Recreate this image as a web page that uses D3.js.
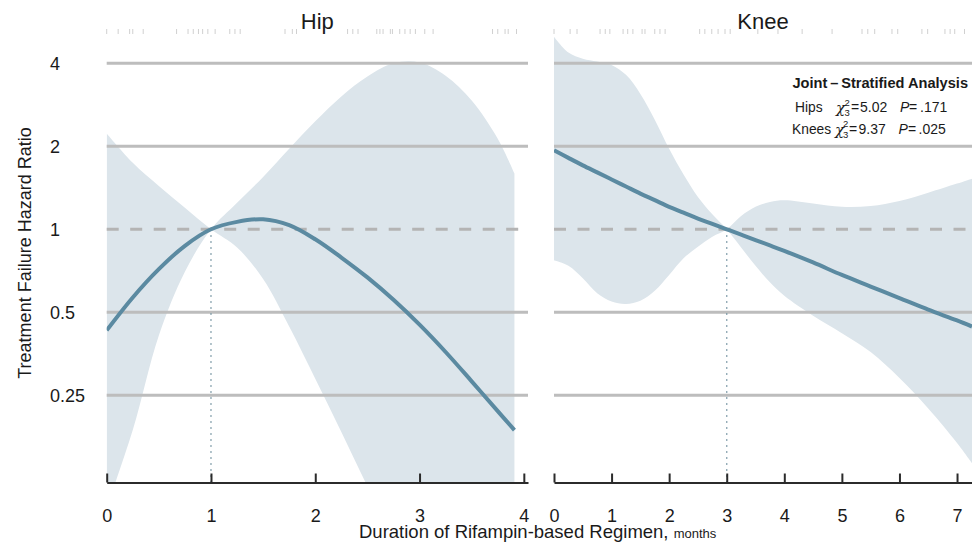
<!DOCTYPE html>
<html><head><meta charset="utf-8">
<script src="https://cdn.jsdelivr.net/npm/d3@7"></script>
<style>
body{margin:0;background:#fff}
svg{display:block}
text{font-family:"Liberation Sans",Arial,Helvetica,sans-serif;fill:#1a1a1a}
</style>
</head><body><svg id="c" width="972" height="542"></svg>
<script>
// ---------- data ----------
const panelTitles = ["Hip", "Knee"];
const yTicks = [0.25, 0.5, 1, 2, 4];
const yTickLabels = ["0.25", "0.5", "1", "2", "4"];
const hipXTicks = [0, 1, 2, 3, 4];
const kneeXTicks = [0, 1, 2, 3, 4, 5, 6, 7];
const hipReference = 1;   // months
const kneeReference = 3;  // months

const hipMonths   = [0, 0.25, 0.5, 0.75, 1, 1.25, 1.5, 1.75, 2, 2.25, 2.5, 2.75, 3, 3.25, 3.5, 3.75, 3.91];
const hipHR       = [0.430, 0.566, 0.717, 0.871, 1, 1.064, 1.087, 1.035, 0.920, 0.790, 0.669, 0.555, 0.451, 0.359, 0.281, 0.219, 0.187];
const hipBoundA   = [2.224, 1.741, 1.434, 1.197, 1, 0.859, 0.660, 0.444, 0.287, 0.184, 0.117, 0.077, 0.051, 0.036, 0.027, 0.022, 0.021];
const hipBoundB   = [0.098, 0.187, 0.412, 0.702, 1, 1.248, 1.548, 1.959, 2.462, 3.031, 3.580, 4.000, 4.028, 3.605, 2.928, 2.129, 1.591];

const kneeMonths  = [0, 0.25, 0.5, 0.75, 1, 1.25, 1.5, 1.75, 2, 2.25, 2.5, 2.75, 3, 3.25, 3.5, 3.75, 4, 4.5, 5, 5.5, 6, 6.5, 7, 7.26];
const kneeHR      = [1.935, 1.815, 1.705, 1.608, 1.516, 1.429, 1.347, 1.275, 1.206, 1.149, 1.094, 1.046, 1, 0.956, 0.914, 0.874, 0.835, 0.758, 0.683, 0.620, 0.563, 0.511, 0.467, 0.444];
const kneeBoundA  = [4.993, 4.377, 4.155, 4.056, 3.945, 3.630, 3.095, 2.497, 1.959, 1.580, 1.310, 1.133, 1, 0.859, 0.737, 0.642, 0.574, 0.486, 0.420, 0.359, 0.289, 0.224, 0.168, 0.142];
const kneeBoundB  = [0.772, 0.737, 0.664, 0.586, 0.547, 0.536, 0.551, 0.599, 0.683, 0.785, 0.865, 0.939, 1, 1.117, 1.206, 1.257, 1.274, 1.240, 1.206, 1.214, 1.266, 1.357, 1.464, 1.526];

const hipRug  = [0.00, 0.11, 0.22, 0.25, 0.35, 0.67, 0.78, 0.83, 0.88, 0.92, 0.97, 1.04, 1.18, 1.23, 1.28, 1.71, 1.78, 1.82, 2.31, 2.36, 2.41, 2.59, 2.62, 2.65, 2.72, 2.74, 2.81, 2.86, 2.91, 2.96, 3.05, 3.13, 3.70, 3.75, 3.82, 3.85, 3.93];
const kneeRug = [0.00, 0.28, 0.40, 0.80, 0.89, 0.97, 1.20, 1.28, 1.37, 1.53, 1.58, 1.75, 1.84, 1.93, 2.53, 2.62, 2.74, 2.85, 2.97, 3.06, 3.54, 3.89, 4.31, 4.83, 5.35, 5.45, 5.57, 5.87, 5.97, 6.39, 6.49, 6.79, 6.88, 6.96, 7.13];

const legendTitle = "Joint\u2009\u2013\u2009Stratified Analysis";
const legendLabels = ["Hips", "Knees"];
const legendChi = ["5.02", "9.37"];
const legendP = [".171", ".025"];

// ---------- styles ----------
const BAND = "#dce5eb", CURVE = "#5b8aa1", GRID = "#bdbdbd", AXIS = "#2b2b2b";

const svg = d3.select("#c");
const plotTop = 35, plotBottom = 482.5;
const y = d3.scaleLog().base(2).domain([Math.pow(2, -3.05), Math.pow(2, 2.34)]).range([plotBottom, plotTop]);
const smooth = d3.curveCatmullRom.alpha(0.5);

const panels = [
  {title: panelTitles[0], x: d3.scaleLinear().domain([0, 4.04]).range([106.7, 528]), ticks: hipXTicks,
   months: hipMonths, hr: hipHR, a: hipBoundA, b: hipBoundB, rug: hipRug, ref: hipReference, dashEnd: 3.97},
  {title: panelTitles[1], x: d3.scaleLinear().domain([0, 7.26]).range([554, 972]), ticks: kneeXTicks,
   months: kneeMonths, hr: kneeHR, a: kneeBoundA, b: kneeBoundB, rug: kneeRug, ref: kneeReference, dashEnd: 7.26}
];

panels.forEach((p, i) => {
  const g = svg.append("g");
  const [x0, x1] = p.x.range();
  const clipId = "clip" + i;
  svg.append("clipPath").attr("id", clipId).append("rect")
    .attr("x", x0).attr("y", plotTop).attr("width", x1 - x0).attr("height", plotBottom - plotTop);

  const rows = p.months.map((m, k) => ({m, hr: p.hr[k], a: p.a[k], b: p.b[k]}));

  // confidence band
  g.append("path").datum(rows)
    .attr("clip-path", `url(#${clipId})`)
    .attr("fill", BAND)
    .attr("d", d3.area().curve(smooth)
      .x(d => p.x(d.m)).y0(d => y(d.b)).y1(d => y(d.a)));

  // grid lines
  g.selectAll(".grid").data(yTicks.filter(t => t !== 1)).join("line")
    .attr("x1", x0).attr("x2", x1)
    .attr("y1", d => y(d)).attr("y2", d => y(d))
    .attr("stroke", GRID).attr("stroke-width", 3);
  g.append("line")
    .attr("x1", x0).attr("x2", p.x(p.dashEnd))
    .attr("y1", y(1)).attr("y2", y(1))
    .attr("stroke", "#b4b4b4").attr("stroke-width", 3).attr("stroke-dasharray", "12,11.5");

  // reference dotted line
  g.append("line")
    .attr("x1", p.x(p.ref)).attr("x2", p.x(p.ref))
    .attr("y1", y(1)).attr("y2", plotBottom)
    .attr("stroke", "#6f8f9e").attr("stroke-width", 1.4).attr("stroke-dasharray", "1.5,4.5");

  // rug
  g.selectAll(".rug").data(p.rug).join("line")
    .attr("x1", d => p.x(d)).attr("x2", d => p.x(d))
    .attr("y1", 29).attr("y2", 34)
    .attr("stroke", "#d0d0d0").attr("stroke-width", 1);

  // estimate curve
  g.append("path").datum(rows)
    .attr("clip-path", `url(#${clipId})`)
    .attr("fill", "none").attr("stroke", CURVE).attr("stroke-width", 4)
    .attr("d", d3.line().curve(smooth).x(d => p.x(d.m)).y(d => y(d.hr)));

  // x axis
  const ax = g.append("g").attr("transform", `translate(0,${plotBottom})`)
    .call(d3.axisBottom(p.x).tickValues(p.ticks).tickFormat(d3.format("d"))
      .tickSizeInner(-9).tickSizeOuter(0).tickPadding(26.5));
  ax.select(".domain").attr("stroke", AXIS).attr("stroke-width", 2);
  ax.selectAll(".tick line").attr("stroke", AXIS).attr("stroke-width", 2);
  ax.selectAll(".tick text").attr("font-size", 18).attr("fill", "#1a1a1a")
    .style("font-family", '"Liberation Sans",Arial,sans-serif');

  // panel title
  g.append("text").attr("x", (x0 + x1) / 2).attr("y", 29)
    .attr("text-anchor", "middle").attr("font-size", 22).text(p.title);
});

// y tick labels
svg.selectAll(".ylab").data(yTicks).join("text")
  .attr("x", 50).attr("y", d => y(d) + 6.5)
  .attr("font-size", 18)
  .text((d, i) => yTickLabels[i]);

// y axis title
svg.append("text").attr("transform", "translate(31,253) rotate(-90)")
  .attr("text-anchor", "middle").attr("font-size", 18)
  .text("Treatment Failure Hazard Ratio");

// x axis title
const xt = svg.append("text").attr("x", 359).attr("y", 538).attr("font-size", 18.5);
xt.append("tspan").text("Duration of Rifampin-based Regimen, ");
xt.append("tspan").attr("font-size", 13).text("months");

// legend
const lg = svg.append("g");
lg.append("text").attr("x", 968).attr("y", 88).attr("font-size", 14.6)
  .attr("text-anchor", "end").attr("font-weight", "bold").text(legendTitle);
const rowLayout = [
  {y: 112, lx: 795, cx: 836, sx: 844.5, ex: 851, vx: 860, px: 900, qx: 909, rx: 920},
  {y: 133.5, lx: 792, cx: 835, sx: 843, ex: 849, vx: 858.5, px: 898.5, qx: 908, rx: 918.5}
];
legendLabels.forEach((lab, i) => {
  const L = rowLayout[i];
  lg.append("text").attr("x", L.lx).attr("y", L.y).attr("font-size", 13.8).text(lab);
  lg.append("text").attr("x", L.cx).attr("y", L.y + 1).attr("font-size", 15)
    .attr("font-style", "italic").style("font-family", '"DejaVu Serif",serif').text("\u03c7");
  lg.append("text").attr("x", L.sx).attr("y", L.y - 6.5).attr("font-size", 9.5).text("2");
  lg.append("text").attr("x", L.sx).attr("y", L.y + 4).attr("font-size", 9.5).text("3");
  lg.append("text").attr("x", L.ex).attr("y", L.y).attr("font-size", 14).text("=");
  lg.append("text").attr("x", L.vx).attr("y", L.y).attr("font-size", 14).text(legendChi[i]);
  lg.append("text").attr("x", L.px).attr("y", L.y).attr("font-size", 14).attr("font-style", "italic").text("P");
  lg.append("text").attr("x", L.qx).attr("y", L.y).attr("font-size", 14).text("=");
  lg.append("text").attr("x", L.rx).attr("y", L.y).attr("font-size", 14).text(legendP[i]);
});
</script>
</body></html>
